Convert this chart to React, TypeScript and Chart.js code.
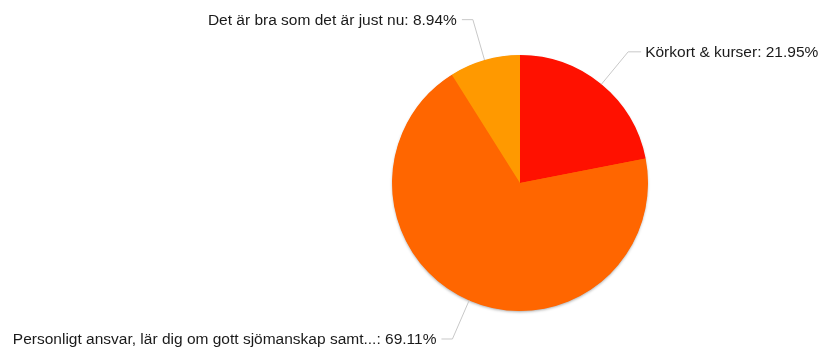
import React, { useEffect, useRef } from "react";
import { Chart, registerables } from "chart.js";

Chart.register(...registerables);

const categories = [
  "Körkort & kurser",
  "Personligt ansvar, lär dig om gott sjömanskap samt...",
  "Det är bra som det är just nu",
];
const values = [21.95, 69.11, 8.94];
const colors = ["#ff1100", "#ff6600", "#ff9900"];

const labelPlugin = {
  id: "leaderLabels",
  beforeDatasetsDraw(chart: any) {
    const meta = chart.getDatasetMeta(0);
    const arc = meta.data[0];
    if (!arc) return;
    const { x, y, outerRadius } = arc.getProps(["x", "y", "outerRadius"], true);
    const ctx = chart.ctx;
    ctx.save();
    ctx.shadowColor = "rgba(0,0,0,0.35)";
    ctx.shadowBlur = 3;
    ctx.shadowOffsetY = 1.5;
    ctx.fillStyle = "#ff6600";
    ctx.beginPath();
    ctx.arc(x, y, outerRadius - 0.5, 0, Math.PI * 2);
    ctx.fill();
    ctx.restore();
  },
  afterDatasetsDraw(chart: any) {
    const ctx = chart.ctx;
    const meta = chart.getDatasetMeta(0);
    ctx.save();
    ctx.font = "15.5px 'Liberation Sans', Arial, sans-serif";
    ctx.textBaseline = "middle";
    meta.data.forEach((el: any, i: number) => {
      const { x, y, startAngle, endAngle, outerRadius } = el.getProps(
        ["x", "y", "startAngle", "endAngle", "outerRadius"],
        true
      );
      const mid = (startAngle + endAngle) / 2;
      const px = x + Math.cos(mid) * outerRadius;
      const py = y + Math.sin(mid) * outerRadius;
      const er = outerRadius + 42;
      const ex = x + Math.cos(mid) * er;
      const ey = y + Math.sin(mid) * er;
      const right = Math.cos(mid) >= 0;
      const hx = ex + (right ? 13 : -11);
      ctx.strokeStyle = "#c8c8c8";
      ctx.lineWidth = 1;
      ctx.beginPath();
      ctx.moveTo(px, py);
      ctx.lineTo(ex, ey);
      ctx.lineTo(hx, ey);
      ctx.stroke();
      ctx.fillStyle = "#1a1a1a";
      const text = `${categories[i]}: ${values[i].toFixed(2)}%`;
      ctx.textAlign = right ? "left" : "right";
      ctx.fillText(text, hx + (right ? 4 : -5), ey + 1);
    });
    ctx.restore();
  },
};

export default function App() {
  const ref = useRef<HTMLCanvasElement>(null);
  useEffect(() => {
    if (!ref.current) return;
    const chart = new Chart(ref.current, {
      type: "pie",
      data: {
        labels: categories,
        datasets: [
          {
            data: values,
            backgroundColor: colors,
            borderWidth: 0,
          },
        ],
      },
      options: {
        responsive: false,
        animation: false,
        layout: { padding: { left: 392, right: 176, top: 55, bottom: 39 } },
        plugins: {
          legend: { display: false },
          tooltip: { enabled: false },
        },
      },
      plugins: [labelPlugin],
    });
    return () => chart.destroy();
  }, []);
  return (
    <div style={{ position: "fixed", left: 0, top: 0, width: 824, height: 350, background: "#fff" }}>
      <canvas ref={ref} width={824} height={350} />
    </div>
  );
}
